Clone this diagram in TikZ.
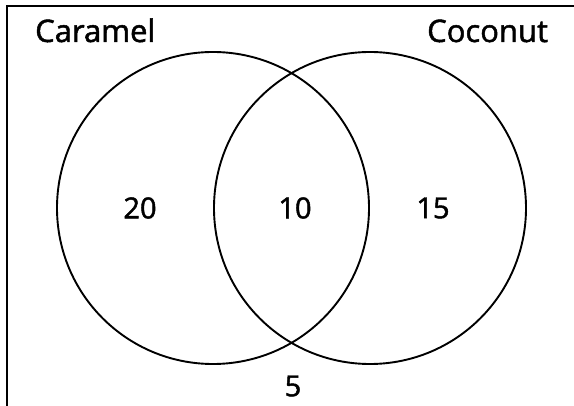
\documentclass[tikz,border=0pt]{standalone}
\usepackage{fontspec}
\setmainfont{Open Sans}
\newfontfamily\vennfont{Open Sans}[BoldFont={Open Sans},BoldFeatures={FakeBold=1.6}]
\usepackage{tikz}
\usetikzlibrary{positioning}

\begin{document}
\begin{tikzpicture}[x=1pt,y=-1pt,
  set/.style={draw=black,line width=1.9pt,circle,minimum size=312pt,inner sep=0pt},
  lbl/.style={font=\vennfont\bfseries\fontsize{31}{33}\selectfont,inner sep=0pt,anchor=base west},
  num/.style={font=\vennfont\bfseries\fontsize{29}{31}\selectfont,inner sep=0pt},
  frame/.style={line width=1.9pt,black}]
\useasboundingbox (0,0) rectangle (574,406);
\coordinate (tl) at (7,6);
\coordinate (tr) at (574,6);
\coordinate (bl) at (7,406);
\draw[frame] (bl) -- (tl) -- (tr);
\node[set] (caramel) at (213,208) {};
\node[set] (coconut) at (370,208) {};
\node[lbl] (lcar) at (35,42) {Caramel};
\node[lbl] (lcoc) at (427,42) {Coconut};
\node[num] (only1) at (140,208) {20};
\node[num] (both) at (295,208) {10};
\node[num] (only2) at (433,208) {15};
\node[num] (none) at (293,386) {5};
\end{tikzpicture}
\end{document}
